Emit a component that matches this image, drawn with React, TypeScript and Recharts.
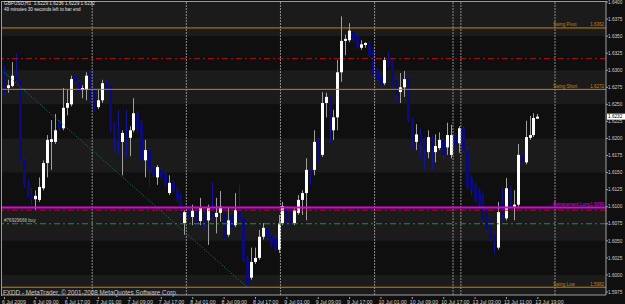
import { ComposedChart, Bar, XAxis, YAxis, ReferenceLine, ReferenceArea } from 'recharts';

// GBPUSD H1, 6 Jul 2009 01:00 .. 13 Jul 2009 19:00
const opens = [
  1.6300, 1.6274, 1.6277, 1.6292, 1.6286, 1.6168, 1.6135, 1.6117, 1.6111, 1.6110,
  1.6127, 1.6164, 1.6195, 1.6195, 1.6224, 1.6215, 1.6245, 1.6250, 1.6292, 1.6283,
  1.6271, 1.6271, 1.6296, 1.6271, 1.6246, 1.6256, 1.6281, 1.6278, 1.6220, 1.6212,
  1.6195, 1.6208, 1.6201, 1.6212, 1.6237, 1.6223, 1.6168, 1.6183, 1.6157, 1.6143,
  1.6154, 1.6149, 1.6120, 1.6136, 1.6124, 1.6117, 1.6076, 1.6095, 1.6085, 1.6095,
  1.6079, 1.6091, 1.6080, 1.6098, 1.6085, 1.6091, 1.6097, 1.6059, 1.6088, 1.6073,
  1.6095, 1.6085, 1.6025, 1.5996, 1.6019, 1.6025, 1.6056, 1.6069, 1.6059, 1.6054,
  1.6037, 1.6076, 1.6098, 1.6092, 1.6076, 1.6091, 1.6110, 1.6120, 1.6154, 1.6154,
  1.6198, 1.6176, 1.6252, 1.6261, 1.6212, 1.6231, 1.6297, 1.6343, 1.6344, 1.6356,
  1.6352, 1.6333, 1.6337, 1.6340, 1.6330, 1.6300, 1.6293, 1.6281, 1.6318, 1.6315,
  1.6286, 1.6268, 1.6275, 1.6289, 1.6227, 1.6195, 1.6205, 1.6198, 1.6180, 1.6201,
  1.6180, 1.6186, 1.6198, 1.6187, 1.6176, 1.6205, 1.6193, 1.6215, 1.6183, 1.6143,
  1.6132, 1.6124, 1.6117, 1.6095, 1.6080, 1.6059, 1.6040, 1.6110, 1.6083, 1.6127,
  1.6100, 1.6103, 1.6176, 1.6165, 1.6201, 1.6205, 1.6229,
];
const highs = [
  1.6306, 1.6286, 1.6312, 1.6325, 1.6289, 1.6171, 1.6139, 1.6127, 1.6124, 1.6143,
  1.6168, 1.6205, 1.6227, 1.6236, 1.6227, 1.6274, 1.6271, 1.6292, 1.6295, 1.6286,
  1.6278, 1.6297, 1.6300, 1.6274, 1.6271, 1.6286, 1.6286, 1.6281, 1.6224, 1.6242,
  1.6212, 1.6242, 1.6218, 1.6259, 1.6240, 1.6227, 1.6198, 1.6186, 1.6160, 1.6161,
  1.6157, 1.6152, 1.6146, 1.6139, 1.6127, 1.6120, 1.6095, 1.6098, 1.6103, 1.6098,
  1.6113, 1.6094, 1.6103, 1.6136, 1.6113, 1.6123, 1.6100, 1.6100, 1.6091, 1.6120,
  1.6132, 1.6088, 1.6028, 1.6040, 1.6040, 1.6066, 1.6076, 1.6072, 1.6061, 1.6057,
  1.6088, 1.6107, 1.6101, 1.6095, 1.6098, 1.6117, 1.6124, 1.6171, 1.6157, 1.6212,
  1.6201, 1.6268, 1.6267, 1.6264, 1.6242, 1.6315, 1.6379, 1.6352, 1.6369, 1.6359,
  1.6355, 1.6344, 1.6341, 1.6343, 1.6333, 1.6303, 1.6296, 1.6319, 1.6327, 1.6318,
  1.6289, 1.6296, 1.6299, 1.6292, 1.6230, 1.6221, 1.6215, 1.6201, 1.6212, 1.6204,
  1.6206, 1.6209, 1.6201, 1.6223, 1.6220, 1.6208, 1.6218, 1.6218, 1.6186, 1.6146,
  1.6135, 1.6127, 1.6120, 1.6098, 1.6083, 1.6061, 1.6107, 1.6127, 1.6142, 1.6130,
  1.6124, 1.6192, 1.6179, 1.6226, 1.6233, 1.6237, 1.6236,
];
const lows = [
  1.6264, 1.6267, 1.6275, 1.6283, 1.6165, 1.6129, 1.6114, 1.6103, 1.6095, 1.6107,
  1.6124, 1.6143, 1.6154, 1.6192, 1.6212, 1.6212, 1.6234, 1.6247, 1.6280, 1.6265,
  1.6259, 1.6256, 1.6253, 1.6239, 1.6243, 1.6252, 1.6268, 1.6209, 1.6183, 1.6176,
  1.6146, 1.6173, 1.6174, 1.6209, 1.6209, 1.6165, 1.6143, 1.6129, 1.6143, 1.6132,
  1.6140, 1.6129, 1.6117, 1.6121, 1.6107, 1.6088, 1.6059, 1.6085, 1.6073, 1.6070,
  1.6073, 1.6066, 1.6044, 1.6082, 1.6061, 1.6078, 1.6052, 1.6056, 1.6066, 1.6070,
  1.6080, 1.6019, 1.5981, 1.5993, 1.6016, 1.6022, 1.6052, 1.6052, 1.6041, 1.6034,
  1.6032, 1.6073, 1.6075, 1.6073, 1.6073, 1.6088, 1.6088, 1.6080, 1.6132, 1.6146,
  1.6165, 1.6173, 1.6231, 1.6193, 1.6198, 1.6212, 1.6283, 1.6322, 1.6341, 1.6341,
  1.6331, 1.6330, 1.6333, 1.6319, 1.6290, 1.6283, 1.6268, 1.6278, 1.6305, 1.6275,
  1.6253, 1.6252, 1.6261, 1.6224, 1.6183, 1.6183, 1.6171, 1.6154, 1.6171, 1.6154,
  1.6165, 1.6183, 1.6168, 1.6176, 1.6171, 1.6187, 1.6179, 1.6180, 1.6126, 1.6117,
  1.6107, 1.6100, 1.6078, 1.6063, 1.6049, 1.6032, 1.6037, 1.6080, 1.6080, 1.6100,
  1.6080, 1.6100, 1.6162, 1.6162, 1.6198, 1.6202, 1.6229,
];
const closes = [
  1.6268, 1.6278, 1.6292, 1.6286, 1.6168, 1.6132, 1.6117, 1.6110, 1.6116, 1.6129,
  1.6164, 1.6198, 1.6199, 1.6212, 1.6215, 1.6245, 1.6252, 1.6287, 1.6283, 1.6268,
  1.6274, 1.6292, 1.6256, 1.6242, 1.6256, 1.6281, 1.6271, 1.6212, 1.6205, 1.6198,
  1.6208, 1.6198, 1.6212, 1.6237, 1.6212, 1.6168, 1.6183, 1.6154, 1.6146, 1.6158,
  1.6143, 1.6132, 1.6135, 1.6124, 1.6110, 1.6091, 1.6092, 1.6088, 1.6094, 1.6073,
  1.6098, 1.6078, 1.6098, 1.6085, 1.6091, 1.6100, 1.6054, 1.6080, 1.6069, 1.6095,
  1.6083, 1.6022, 1.5985, 1.6019, 1.6025, 1.6056, 1.6069, 1.6054, 1.6044, 1.6037,
  1.6076, 1.6101, 1.6078, 1.6076, 1.6095, 1.6110, 1.6120, 1.6154, 1.6146, 1.6195,
  1.6168, 1.6252, 1.6261, 1.6212, 1.6231, 1.6297, 1.6343, 1.6346, 1.6358, 1.6344,
  1.6334, 1.6338, 1.6340, 1.6322, 1.6293, 1.6286, 1.6278, 1.6315, 1.6308, 1.6278,
  1.6264, 1.6275, 1.6287, 1.6227, 1.6198, 1.6206, 1.6190, 1.6183, 1.6202, 1.6183,
  1.6189, 1.6198, 1.6176, 1.6205, 1.6205, 1.6190, 1.6215, 1.6183, 1.6129, 1.6124,
  1.6110, 1.6103, 1.6080, 1.6066, 1.6052, 1.6044, 1.6092, 1.6088, 1.6127, 1.6103,
  1.6103, 1.6176, 1.6165, 1.6202, 1.6205, 1.6230, 1.6232,
];

const timeLabels = [
  '6 Jul 2009', '6 Jul 09:00', '6 Jul 17:00', '7 Jul 01:00', '7 Jul 09:00', '7 Jul 17:00',
  '8 Jul 01:00', '8 Jul 09:00', '8 Jul 17:00', '9 Jul 01:00', '9 Jul 09:00', '9 Jul 17:00',
  '10 Jul 01:00', '10 Jul 09:00', '10 Jul 17:00', '13 Jul 03:00', '13 Jul 11:00', '13 Jul 19:00',
];
const priceTicks = [
  1.5975, 1.6, 1.6025, 1.605, 1.6075, 1.61, 1.6125, 1.615, 1.6175,
  1.62, 1.6225, 1.625, 1.6275, 1.63, 1.6325, 1.635, 1.6375, 1.64,
];
const bandStarts = [1.595, 1.605, 1.615, 1.625, 1.635];
const daySeparators = [23, 47, 71, 95, 115, 117, 141];
const swingLevels = [
  { name: 'Swing Pivot', value: 1.6362 },
  { name: 'Swing Short', value: 1.6272 },
  { name: 'Swing Low', value: 1.5982 },
];
const retracementLong = 1.6099;
const redLevels = [1.6317, 1.6095];
const orderLevel = 1.6075;
const trendStart = { x: 0, y: 1.6297 };
const trendEnd = { x: 62, y: 1.5982 };

const SLOTS = 154;
const data: any[] = [];
for (let i = 0; i < SLOTS; i++) {
  data.push(
    i < opens.length
      ? { i, o: opens[i], h: highs[i], l: lows[i], c: closes[i] }
      : { i }
  );
}
const last = closes[closes.length - 1];

const FONT = '"Liberation Sans", Arial, sans-serif';
const ORANGE = '#cc8208';
const MAGENTA = '#e000e0';
const GRID = '#a0a0a0';

function Candle(props: any) {
  const { x, y, width, height, payload } = props;
  if (payload == null || payload.h == null) return null;
  const top = Math.min(y, y + height);
  const span = Math.abs(height);
  const k = payload.h === payload.l ? 0 : span / (payload.h - payload.l);
  const py = (v: number) => top + (payload.h - v) * k;
  const up = payload.c >= payload.o;
  const cx = Math.round(x + width / 2) + 0.5;
  const bTop = py(Math.max(payload.o, payload.c));
  const bBot = py(Math.min(payload.o, payload.c));
  return (
    <g>
      <line x1={cx} x2={cx} y1={top} y2={top + span} stroke={up ? '#a0a0a0' : '#14149a'} strokeWidth={1} />
      <rect x={cx - 1.5} y={bTop} width={3} height={Math.max(1, bBot - bTop)} fill={up ? '#ffffff' : '#0a0a78'} />
    </g>
  );
}

function TimeTick(props: any) {
  const { x, y, payload } = props;
  const idx = payload.value / 8;
  if (!Number.isInteger(idx) || idx >= timeLabels.length) return null;
  return (
    <g>
      <line x1={x + 0.5} x2={x + 0.5} y1={y - 2} y2={y} stroke={GRID} />
      <text x={x - 2} y={y + 4.5} fontSize={5.2} fill="#d0d0d0" fontFamily={FONT} textAnchor="start">
        {timeLabels[idx]}
      </text>
    </g>
  );
}

function PriceTick(props: any) {
  const { x, y, payload } = props;
  return (
    <text x={x} y={y + 1.7} fontSize={4.7} fill="#d0d0d0" fontFamily={FONT} textAnchor="start">
      {payload.value.toFixed(4)}
    </text>
  );
}

const levelLabel = (name: string, value: number, color: string) => (p: any) => {
  const { x, y, width } = p.viewBox;
  return (
    <g fontFamily={FONT} fontSize={4.5} fill={color}>
      <text x={x + 551} y={y - 1.5}>{name}</text>
      <text x={x + width - 2} y={y - 1.5} textAnchor="end">{value.toFixed(4)}</text>
    </g>
  );
};

const orderLabel = (p: any) => {
  const { x, y } = p.viewBox;
  return (
    <text x={x + 2} y={y - 1.5} fontSize={4.6} fill="#c0c0c0" fontFamily={FONT}>
      #76929666 buy
    </text>
  );
};

const priceBox = (p: any) => {
  const { x, y, width } = p.viewBox;
  return (
    <g>
      <rect x={x + width + 1} y={y - 3} width={19} height={6} fill="#ffffff" />
      <text x={x + width + 2} y={y + 1.7} fontSize={4.7} fill="#000000" fontFamily={FONT}>
        {last.toFixed(4)}
      </text>
    </g>
  );
};

export default function App() {
  return (
    <div
      style={{
        position: 'absolute',
        left: 0,
        top: 0,
        width: 625,
        height: 304,
        background: '#0f0f0f',
        fontFamily: FONT,
        overflow: 'hidden',
      }}
    >
      <ComposedChart
        width={625}
        height={304}
        data={data}
        margin={{ top: 1, right: 0, left: 2, bottom: 0 }}
        barCategoryGap={0}
      >
        <XAxis
          dataKey="i"
          type="category"
          interval={7}
          height={9}
          tickSize={2}
          tickLine={false}
          tick={<TimeTick />}
          axisLine={{ stroke: GRID }}
        />
        <YAxis
          orientation="right"
          width={19}
          domain={[1.59706, 1.64015]}
          allowDataOverflow
          ticks={priceTicks}
          interval={0}
          tickSize={2}
          tickMargin={0}
          tickLine={{ stroke: GRID }}
          axisLine={{ stroke: GRID }}
          tick={<PriceTick />}
        />
        {bandStarts.map((b) => (
          <ReferenceArea key={b} y1={b} y2={b + 0.005} fill="#1b1b1b" fillOpacity={1} stroke="none" ifOverflow="hidden" />
        ))}
        {daySeparators.map((d) => (
          <ReferenceLine key={d} x={d} position="start" stroke="#8c8c8c" strokeDasharray="2 1" />
        ))}
        <ReferenceLine
          segment={[trendStart, trendEnd]}
          stroke="#0a8c8c"
          strokeDasharray="1 2"
        />
        <Bar dataKey={(d: any) => (d.h == null ? null : [d.l, d.h])} shape={<Candle />} isAnimationActive={false} />
        {swingLevels.map((s) => (
          <ReferenceLine key={s.name} y={s.value} stroke={ORANGE} label={levelLabel(s.name, s.value, ORANGE)} />
        ))}
        {redLevels.map((r) => (
          <ReferenceLine key={r} y={r} stroke="#b01414" strokeDasharray="6 3 2 3" />
        ))}
        <ReferenceLine y={orderLevel} stroke="#1f9a1f" strokeDasharray="6 3 2 3" label={orderLabel} />
        <ReferenceLine
          y={retracementLong}
          stroke={MAGENTA}
          strokeWidth={2}
          label={levelLabel('Retracement Long', retracementLong, MAGENTA)}
        />
        <ReferenceLine y={last} stroke="none" label={priceBox} />
      </ComposedChart>
      <div
        style={{
          position: 'absolute',
          left: 1,
          top: 1,
          width: 605,
          height: 294,
          borderLeft: '1px solid #9a9a9a',
          borderTop: '1px solid #9a9a9a',
          pointerEvents: 'none',
        }}
      />
      <div style={{ position: 'absolute', left: 4, top: 1, fontSize: 4.7, lineHeight: '5px', color: '#e0e0e0', whiteSpace: 'pre' }}>
        {'GBPUSD,H1  1.6229 1.6236 1.6229 1.6232'}
      </div>
      <div style={{ position: 'absolute', left: 4, top: 7, fontSize: 4.6, lineHeight: '5px', color: '#e0e0e0', whiteSpace: 'pre' }}>
        49 minutes 30 seconds left to bar end
      </div>
      <div style={{ position: 'absolute', left: 3, top: 289, fontSize: 6.3, lineHeight: '7px', color: '#c8c8c8', whiteSpace: 'pre' }}>
        FXDD - MetaTrader, © 2001-2008 MetaQuotes Software Corp.
      </div>
    </div>
  );
}
